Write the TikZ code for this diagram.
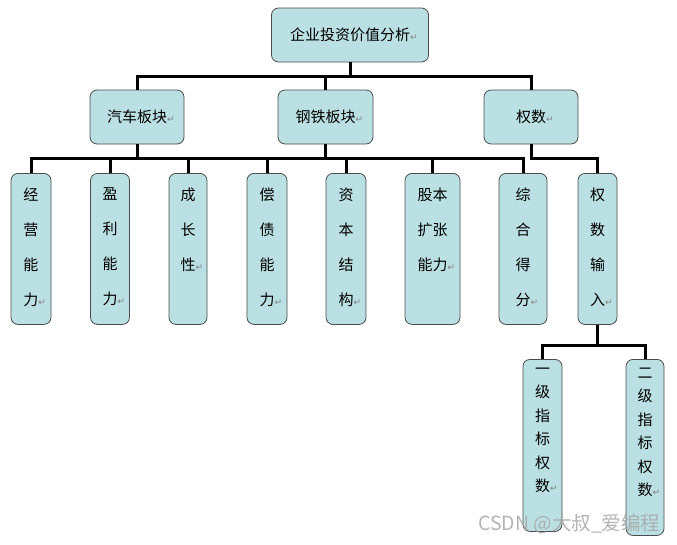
\documentclass[tikz,border=0pt]{standalone}
\usepackage{fontspec}
\newfontfamily\cjk{Noto Sans CJK SC}
\newfontfamily\sym{DejaVu Sans}
\definecolor{boxfill}{RGB}{187,224,227}
\newcommand{\ret}{\rlap{\textcolor{gray}{\sym\fontsize{9}{9}\selectfont ↵}}}
\newcommand{\vcol}[3]{\parbox[t][#1][t]{#2}{\centering #3}}

\tikzset{
box/.style={draw=black!70, fill=boxfill, rounded corners=7pt, line width=0.8pt, font=\cjk\fontsize{15}{18}\selectfont},
hbox/.style={box, minimum height=54pt, inner sep=0pt},
col/.style={box, anchor=north, inner xsep=0pt, inner ysep=14.5pt, font=\cjk\fontsize{15}{35}\selectfont},
subcol/.style={box, anchor=north, inner xsep=0pt, inner ysep=8.5pt, font=\cjk\fontsize{15}{23.5}\selectfont},
conn/.style={line width=3pt}
}

\begin{document}
\begin{tikzpicture}[x=1pt,y=-1pt]
\useasboundingbox (0,0) rectangle (677,544);

% top and second level
\node[hbox, minimum width=157pt] (root) at (350,35) {企业投资价值分析\ret};
\node[hbox, minimum width=94pt] (qiche) at (137,117) {汽车板块\ret};
\node[hbox, minimum width=95pt] (gangtie) at (325.5,117) {钢铁板块\ret};
\node[hbox, minimum width=94pt] (quanshu) at (531,117) {权数\ret};

% third level
\node[col] (jingying) at (31,173) {\vcol{122pt}{40pt}{经\\营\\能\\力\ret}};
\node[col] (yingli) at (110,173) {\vcol{122pt}{39pt}{盈\\利\\能\\力\ret}};
\node[col] (chengzhang) at (188,173) {\vcol{122pt}{38pt}{成\\长\\性\ret}};
\node[col] (changzhai) at (267,173) {\vcol{122pt}{40pt}{偿\\债\\能\\力\ret}};
\node[col] (ziben) at (346,173) {\vcol{122pt}{40pt}{资\\本\\结\\构\ret}};
\node[col] (guben) at (432.5,173) {\vcol{122pt}{55pt}{股本\\扩张\\能力\ret}};
\node[col] (zonghe) at (523,173) {\vcol{122pt}{48pt}{综\\合\\得\\分\ret}};
\node[col] (qsinput) at (597.5,173) {\vcol{122pt}{39pt}{权\\数\\输\\入\ret}};

% fourth level
\node[subcol] (yiji) at (542.5,359) {\vcol{155pt}{39pt}{一\\级\\指\\标\\权\\数\ret}};
\node[subcol] (erji) at (645,359) {\vcol{159pt}{38pt}{二\\级\\指\\标\\权\\数\ret}};

\coordinate (bus1) at (0,76);
\coordinate (bus2) at (0,158);
\coordinate (bus3) at (0,345);

\draw[conn] (qiche.north) -- (qiche.north |- bus1) -- (quanshu.north |- bus1) -- (quanshu.north);
\draw[conn] (root.south) -- (root.south |- bus1);
\draw[conn] (gangtie.north) -- (gangtie.north |- bus1);

\draw[conn] (jingying.north) -- (jingying.north |- bus2) -- (zonghe.north |- bus2) -- (zonghe.north);
\foreach \n in {yingli,chengzhang,changzhai,ziben,guben}
  \draw[conn] (\n.north) -- (\n.north |- bus2);
\draw[conn] (qiche.south) -- (qiche.south |- bus2);
\draw[conn] (gangtie.south) -- (gangtie.south |- bus2);
\draw[conn] (quanshu.south) -- (quanshu.south |- bus2) -| (qsinput.north);

\draw[conn] (yiji.north) -- (yiji.north |- bus3) -- (erji.north |- bus3) -- (erji.north);
\draw[conn] (qsinput.south) -- (qsinput.south |- bus3);

\node[font=\cjk\fontsize{19.5}{19.5}\selectfont, text=gray!70, opacity=0.85, anchor=east] (mark) at (664,524) {CSDN @大叔\_爱编程};
\end{tikzpicture}
\end{document}
